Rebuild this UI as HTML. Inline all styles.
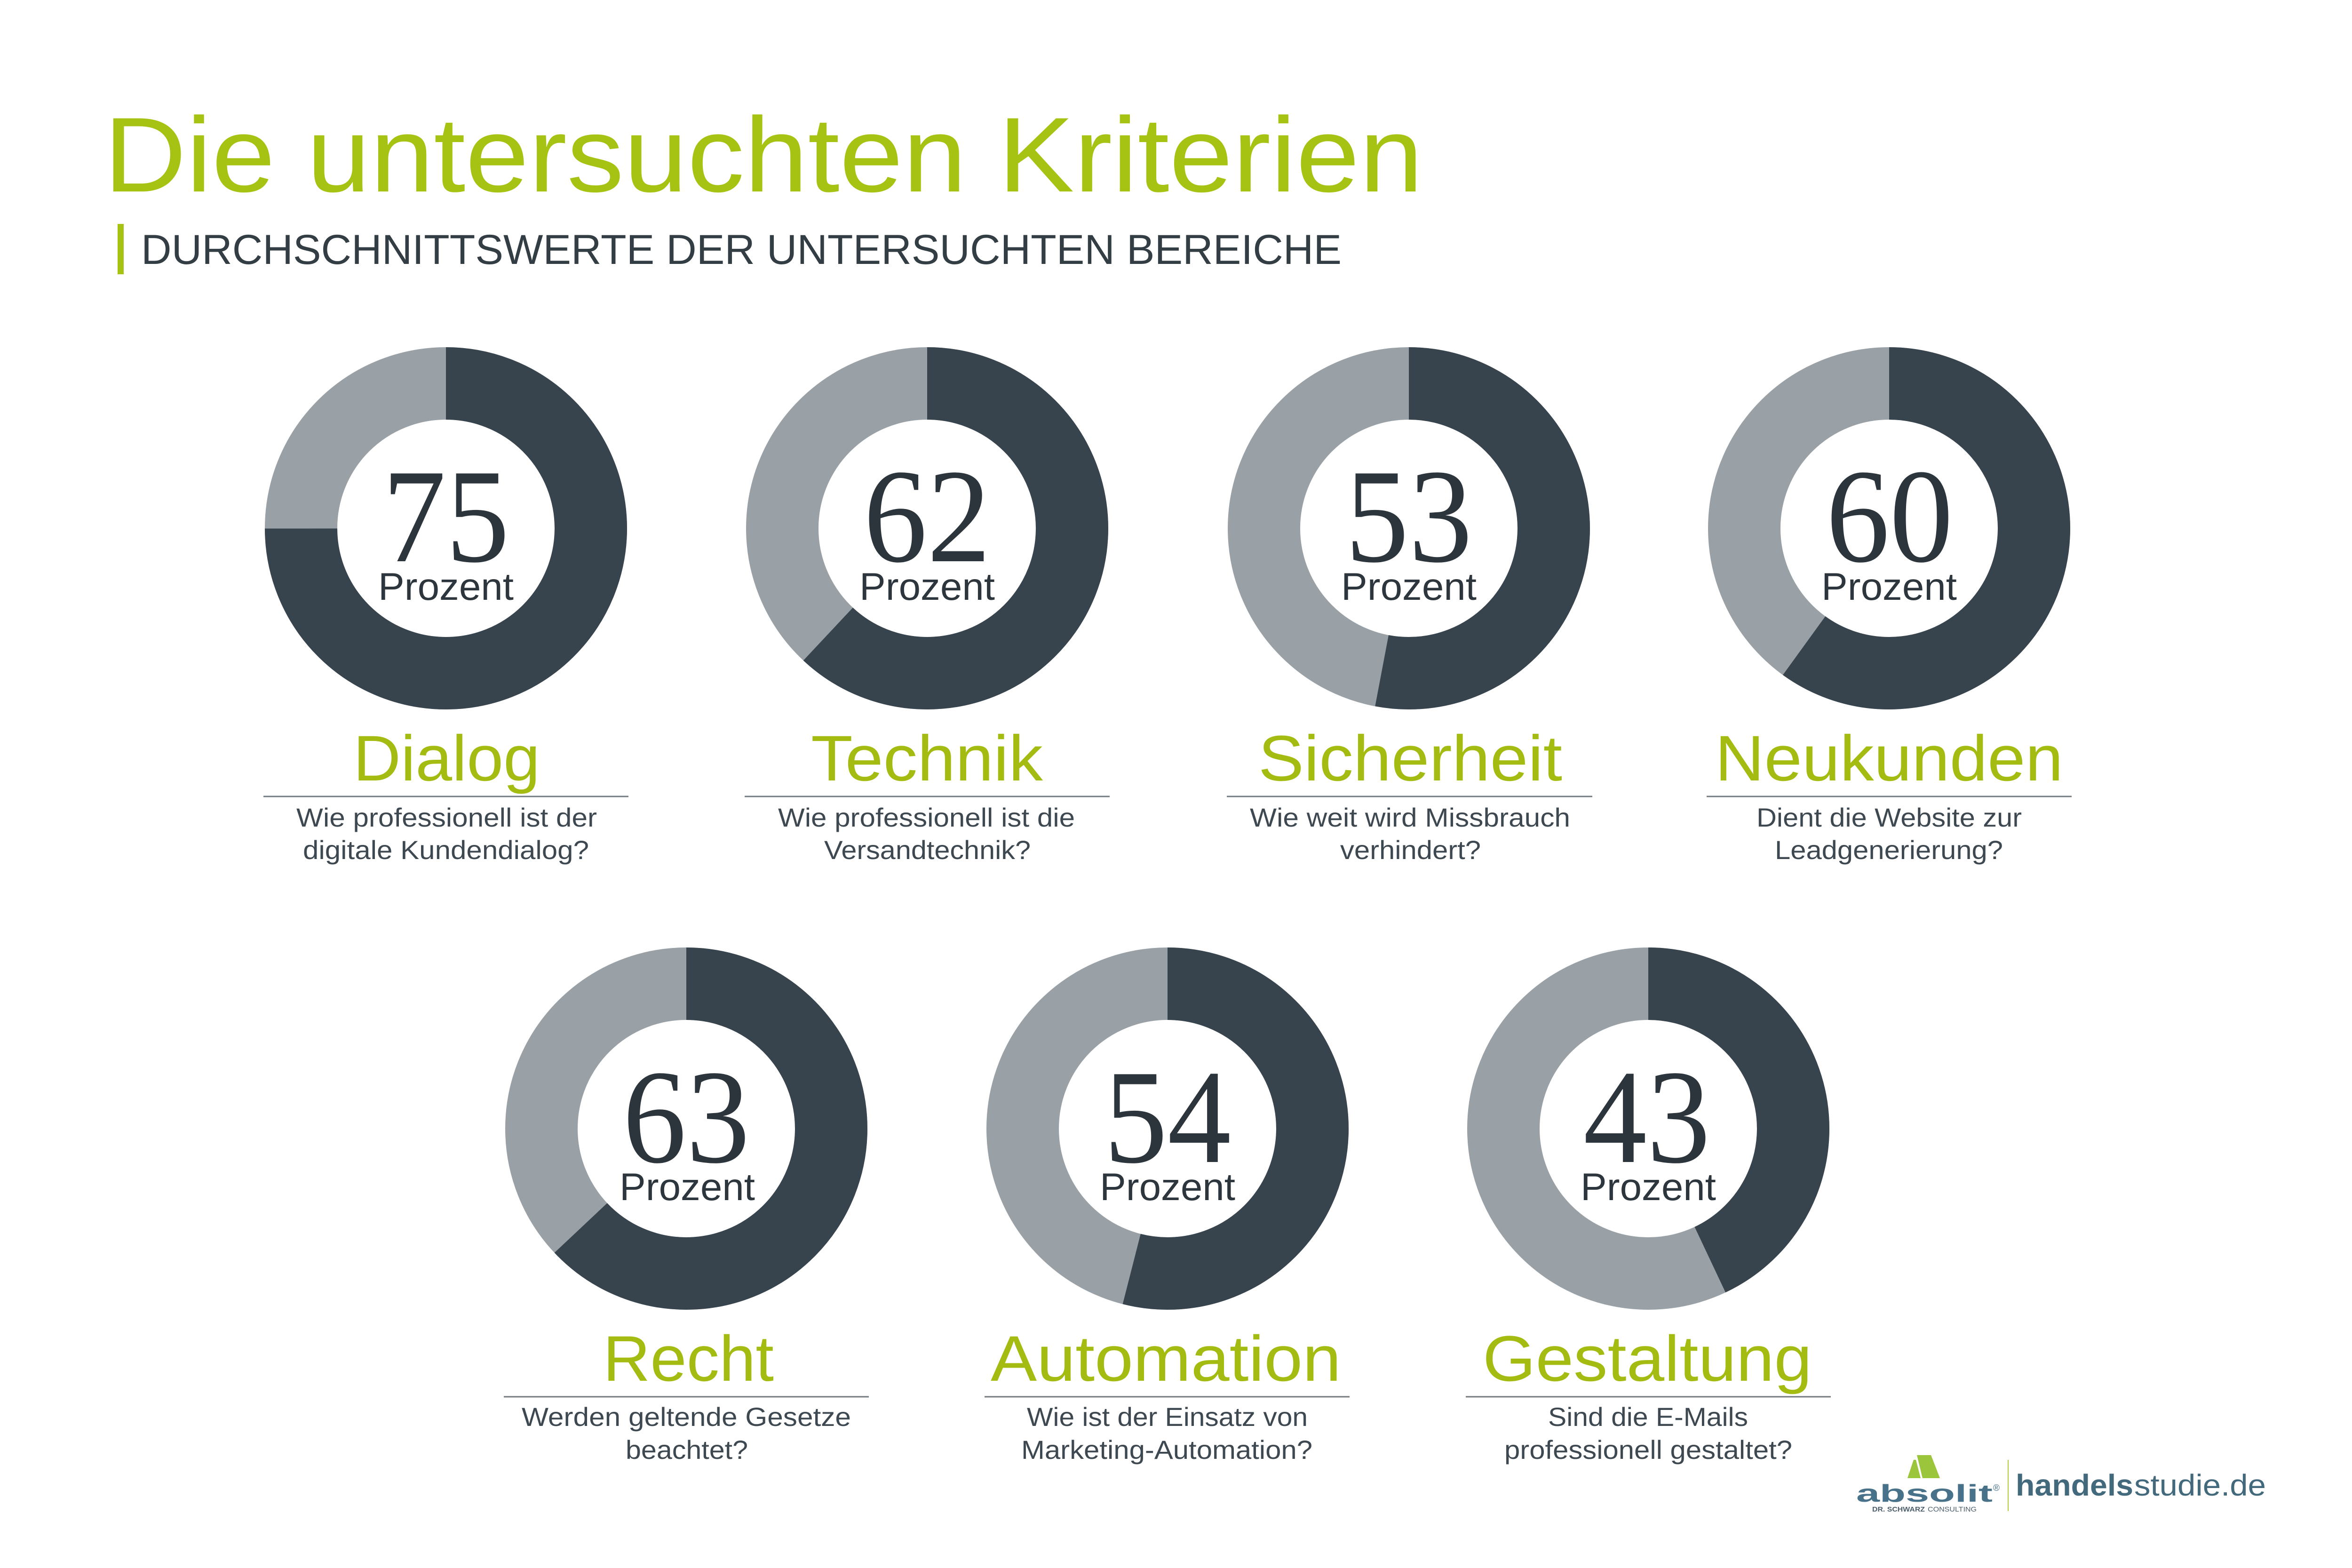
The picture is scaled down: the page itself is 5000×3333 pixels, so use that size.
<!DOCTYPE html>
<html>
<head>
<meta charset="utf-8">
<style>
  html,body{margin:0;padding:0;background:#ffffff;}
  svg{display:block;}
  .sans{font-family:"Liberation Sans", sans-serif;}
  .serif{font-family:"Liberation Serif", serif;}
</style>
</head>
<body>
<svg xmlns="http://www.w3.org/2000/svg" width="5000" height="3333" viewBox="0 0 5000 3333">
  <rect x="0" y="0" width="5000" height="3333" fill="#ffffff"/>

  <!-- Title -->
  <text class="sans" x="221" y="407" font-size="226" fill="#a6c313" textLength="2804" lengthAdjust="spacingAndGlyphs">Die untersuchten Kriterien</text>
  <rect x="250" y="476" width="13" height="107" fill="#a6c313"/>
  <text class="sans" x="300" y="561" font-size="89" fill="#333d44" textLength="2552" lengthAdjust="spacingAndGlyphs">DURCHSCHNITTSWERTE DER UNTERSUCHTEN BEREICHE</text>

  <!-- Row 1 donuts -->
  <g>
    <circle cx="948" cy="1123" r="308" fill="none" stroke="#9aa1a6" stroke-width="154"/>
    <circle cx="948" cy="1123" r="308" fill="none" stroke="#37444d" stroke-width="154" pathLength="100" stroke-dasharray="75 100" transform="rotate(-90 948 1123)"/>
    <text class="serif" x="813" y="1193" font-size="285" fill="#2d353c" textLength="270" lengthAdjust="spacingAndGlyphs">75</text>
    <text class="sans" x="804" y="1275" font-size="82" fill="#2d363d" textLength="288" lengthAdjust="spacingAndGlyphs">Prozent</text>
  </g>
  <g>
    <circle cx="1971" cy="1123" r="308" fill="none" stroke="#9aa1a6" stroke-width="154"/>
    <circle cx="1971" cy="1123" r="308" fill="none" stroke="#37444d" stroke-width="154" pathLength="100" stroke-dasharray="62 100" transform="rotate(-90 1971 1123)"/>
    <text class="serif" x="1836" y="1193" font-size="285" fill="#2d353c" textLength="270" lengthAdjust="spacingAndGlyphs">62</text>
    <text class="sans" x="1827" y="1275" font-size="82" fill="#2d363d" textLength="288" lengthAdjust="spacingAndGlyphs">Prozent</text>
  </g>
  <g>
    <circle cx="2995" cy="1123" r="308" fill="none" stroke="#9aa1a6" stroke-width="154"/>
    <circle cx="2995" cy="1123" r="308" fill="none" stroke="#37444d" stroke-width="154" pathLength="100" stroke-dasharray="53 100" transform="rotate(-90 2995 1123)"/>
    <text class="serif" x="2860" y="1193" font-size="285" fill="#2d353c" textLength="270" lengthAdjust="spacingAndGlyphs">53</text>
    <text class="sans" x="2851" y="1275" font-size="82" fill="#2d363d" textLength="288" lengthAdjust="spacingAndGlyphs">Prozent</text>
  </g>
  <g>
    <circle cx="4016" cy="1123" r="308" fill="none" stroke="#9aa1a6" stroke-width="154"/>
    <circle cx="4016" cy="1123" r="308" fill="none" stroke="#37444d" stroke-width="154" pathLength="100" stroke-dasharray="60 100" transform="rotate(-90 4016 1123)"/>
    <text class="serif" x="3882" y="1193" font-size="285" fill="#2d353c" textLength="270" lengthAdjust="spacingAndGlyphs">60</text>
    <text class="sans" x="3872" y="1275" font-size="82" fill="#2d363d" textLength="288" lengthAdjust="spacingAndGlyphs">Prozent</text>
  </g>

  <!-- Row 1 labels -->
  <g class="sans">
    <text x="751" y="1659" font-size="137" fill="#a4bc12" textLength="397" lengthAdjust="spacingAndGlyphs">Dialog</text>
    <text x="1724" y="1659" font-size="137" fill="#a4bc12" textLength="493" lengthAdjust="spacingAndGlyphs">Technik</text>
    <text x="2675" y="1659" font-size="137" fill="#a4bc12" textLength="646" lengthAdjust="spacingAndGlyphs">Sicherheit</text>
    <text x="3646" y="1659" font-size="137" fill="#a4bc12" textLength="740" lengthAdjust="spacingAndGlyphs">Neukunden</text>
  </g>
  <g stroke="#737b80" stroke-width="3">
    <line x1="560" y1="1693" x2="1336" y2="1693"/>
    <line x1="1583" y1="1693" x2="2359" y2="1693"/>
    <line x1="2608" y1="1693" x2="3385" y2="1693"/>
    <line x1="3628" y1="1693" x2="4404" y2="1693"/>
  </g>
  <g class="sans" font-size="56" fill="#3e4850">
    <text x="630" y="1757" textLength="639" lengthAdjust="spacingAndGlyphs">Wie professionell ist der</text>
    <text x="644" y="1826" textLength="608" lengthAdjust="spacingAndGlyphs">digitale Kundendialog?</text>
    <text x="1654" y="1757" textLength="631" lengthAdjust="spacingAndGlyphs">Wie professionell ist die</text>
    <text x="1752" y="1826" textLength="439" lengthAdjust="spacingAndGlyphs">Versandtechnik?</text>
    <text x="2657" y="1757" textLength="681" lengthAdjust="spacingAndGlyphs">Wie weit wird Missbrauch</text>
    <text x="2849" y="1826" textLength="299" lengthAdjust="spacingAndGlyphs">verhindert?</text>
    <text x="3734" y="1757" textLength="564" lengthAdjust="spacingAndGlyphs">Dient die Website zur</text>
    <text x="3773" y="1826" textLength="485" lengthAdjust="spacingAndGlyphs">Leadgenerierung?</text>
  </g>

  <!-- Row 2 donuts -->
  <g>
    <circle cx="1459" cy="2399" r="308" fill="none" stroke="#9aa1a6" stroke-width="154"/>
    <circle cx="1459" cy="2399" r="308" fill="none" stroke="#37444d" stroke-width="154" pathLength="100" stroke-dasharray="63 100" transform="rotate(-90 1459 2399)"/>
    <text class="serif" x="1324" y="2470" font-size="285" fill="#2d353c" textLength="270" lengthAdjust="spacingAndGlyphs">63</text>
    <text class="sans" x="1317" y="2551" font-size="82" fill="#2d363d" textLength="288" lengthAdjust="spacingAndGlyphs">Prozent</text>
  </g>
  <g>
    <circle cx="2482" cy="2399" r="308" fill="none" stroke="#9aa1a6" stroke-width="154"/>
    <circle cx="2482" cy="2399" r="308" fill="none" stroke="#37444d" stroke-width="154" pathLength="100" stroke-dasharray="54 100" transform="rotate(-90 2482 2399)"/>
    <text class="serif" x="2347" y="2470" font-size="285" fill="#2d353c" textLength="270" lengthAdjust="spacingAndGlyphs">54</text>
    <text class="sans" x="2338" y="2551" font-size="82" fill="#2d363d" textLength="288" lengthAdjust="spacingAndGlyphs">Prozent</text>
  </g>
  <g>
    <circle cx="3504" cy="2399" r="308" fill="none" stroke="#9aa1a6" stroke-width="154"/>
    <circle cx="3504" cy="2399" r="308" fill="none" stroke="#37444d" stroke-width="154" pathLength="100" stroke-dasharray="43 100" transform="rotate(-90 3504 2399)"/>
    <text class="serif" x="3366" y="2470" font-size="285" fill="#2d353c" textLength="270" lengthAdjust="spacingAndGlyphs">43</text>
    <text class="sans" x="3360" y="2551" font-size="82" fill="#2d363d" textLength="288" lengthAdjust="spacingAndGlyphs">Prozent</text>
  </g>

  <!-- Row 2 labels -->
  <g class="sans">
    <text x="1282" y="2935" font-size="137" fill="#a4bc12" textLength="363" lengthAdjust="spacingAndGlyphs">Recht</text>
    <text x="2106" y="2935" font-size="137" fill="#a4bc12" textLength="745" lengthAdjust="spacingAndGlyphs">Automation</text>
    <text x="3152" y="2935" font-size="137" fill="#a4bc12" textLength="700" lengthAdjust="spacingAndGlyphs">Gestaltung</text>
  </g>
  <g stroke="#737b80" stroke-width="3">
    <line x1="1071" y1="2969" x2="1847" y2="2969"/>
    <line x1="2093" y1="2969" x2="2869" y2="2969"/>
    <line x1="3116" y1="2969" x2="3892" y2="2969"/>
  </g>
  <g class="sans" font-size="56" fill="#3e4850">
    <text x="1109" y="3031" textLength="700" lengthAdjust="spacingAndGlyphs">Werden geltende Gesetze</text>
    <text x="1330" y="3101" textLength="260" lengthAdjust="spacingAndGlyphs">beachtet?</text>
    <text x="2183" y="3031" textLength="597" lengthAdjust="spacingAndGlyphs">Wie ist der Einsatz von</text>
    <text x="2171" y="3101" textLength="619" lengthAdjust="spacingAndGlyphs">Marketing-Automation?</text>
    <text x="3291" y="3031" textLength="425" lengthAdjust="spacingAndGlyphs">Sind die E-Mails</text>
    <text x="3198" y="3101" textLength="612" lengthAdjust="spacingAndGlyphs">professionell gestaltet?</text>
  </g>

  <!-- Logo -->
  <polygon points="4068,3103 4073,3103 4083,3142 4055,3142" fill="#9bc63c"/>
  <polygon points="4075,3093 4105,3093 4124,3142 4087,3142" fill="#9bc63c"/>
  <text class="sans" x="3946" y="3192" font-size="52" font-weight="bold" fill="#47728a" textLength="290" lengthAdjust="spacingAndGlyphs">absolit</text>
  <text class="sans" x="4237" y="3169" font-size="19" fill="#47728a">®</text>
  <text class="sans" x="3980" y="3213" font-size="15" font-weight="bold" fill="#4d5f6b" textLength="112" lengthAdjust="spacingAndGlyphs">DR. SCHWARZ</text>
  <text class="sans" x="4098" y="3213" font-size="15" fill="#4d5f6b" textLength="104" lengthAdjust="spacingAndGlyphs">CONSULTING</text>
  <rect x="4268" y="3103" width="2" height="109" fill="#b5cc3a"/>
  <text class="sans" x="4285" y="3179" font-size="64" font-weight="bold" fill="#43697d" textLength="250" lengthAdjust="spacingAndGlyphs">handels</text>
  <text class="sans" x="4537" y="3179" font-size="64" fill="#43697d" textLength="280" lengthAdjust="spacingAndGlyphs">studie.de</text>
</svg>
</body>
</html>
